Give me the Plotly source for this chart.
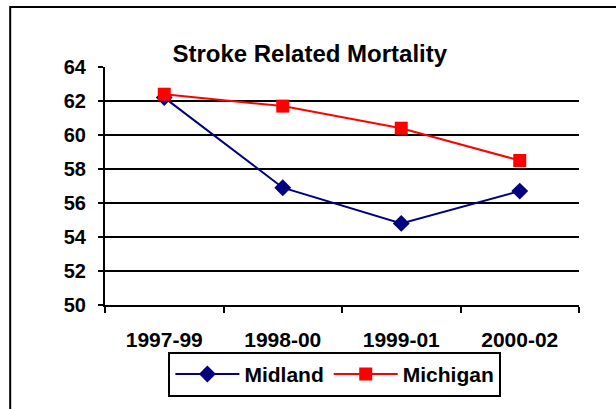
import plotly.graph_objects as go

periods = ['1997-99', '1998-00', '1999-01', '2000-02']
midland = [62.2, 56.9, 54.8, 56.7]
michigan = [62.4, 61.7, 60.4, 58.5]

FONT = 'Liberation Sans, Arial, sans-serif'

fig = go.Figure()

fig.add_trace(go.Scatter(
    x=periods, y=midland, mode='lines+markers', name='<b>Midland</b>',
    line=dict(color='#000080', width=2),
    marker=dict(symbol='diamond', size=13, color='#000080')
))

fig.add_trace(go.Scatter(
    x=periods, y=michigan, mode='lines+markers', name='<b>Michigan</b>',
    line=dict(color='#FF0000', width=2),
    marker=dict(symbol='square', size=13, color='#FF0000')
))

# outer chart frame (clipped by the window on right and bottom)
fig.add_shape(type='rect', xref='paper', yref='paper',
              x0=-0.2, y0=-2, x1=2, y1=1.252,
              line=dict(color='black', width=2))

fig.update_layout(
    width=616, height=409,
    margin=dict(l=105, r=37, t=67, b=104),
    paper_bgcolor='white', plot_bgcolor='white',
    font=dict(family=FONT, color='black'),
    title=dict(text='<b>Stroke Related Mortality</b>', font=dict(size=24),
               x=0.432, xref='paper', xanchor='center',
               y=1 - 54 / 409, yref='container', yanchor='middle'),
    showlegend=True,
    legend=dict(orientation='h', x=0.485, xanchor='center', y=-0.197, yanchor='top',
                bordercolor='black', borderwidth=2, bgcolor='white',
                font=dict(size=21), itemwidth=64),
)

fig.update_xaxes(
    type='category', range=[-0.5, 3.5],
    showline=True, linecolor='black', linewidth=2,
    ticks='outside', tickson='boundaries', ticklen=6, tickcolor='black', tickwidth=2,
    showgrid=False, tickfont=dict(size=21), ticklabelstandoff=15,
    tickprefix='<b>', ticksuffix='</b>'
)

fig.update_yaxes(
    range=[50, 64], dtick=2,
    showline=True, linecolor='black', linewidth=2,
    ticks='outside', ticklen=5, tickcolor='black', tickwidth=2,
    showgrid=True, gridcolor='black', gridwidth=1.8,
    tickfont=dict(size=20), tickprefix='<b>', ticksuffix='</b>',
    ticklabelstandoff=8, zeroline=False
)

# the page body has a default 8px margin; drop it so the chart sits at the window origin
fig.write_html('out.html', config={'displayModeBar': False},
               post_script="document.body.style.margin='0px';")
